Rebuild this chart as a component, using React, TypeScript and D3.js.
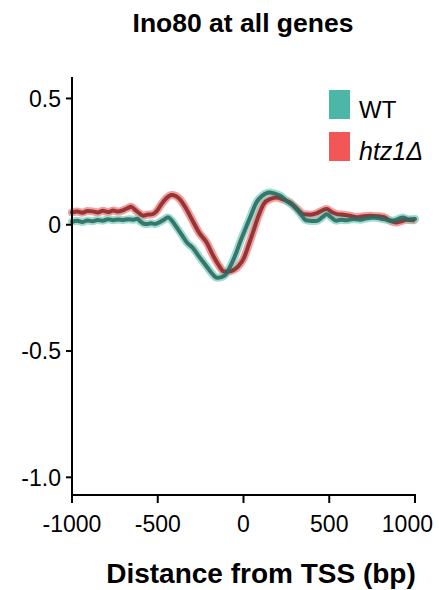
import React from "react";
import * as d3 from "d3";

// Ino80 occupancy profile around the TSS, two strains
const positionsWT = [-1000, -970, -940, -910, -880, -850, -820, -790, -760, -730, -700, -670, -640, -620, -600, -580, -560, -540, -515, -490, -460, -440, -420, -395, -360, -330, -295, -260, -215, -185, -155, -125, -105, -75, -45, -15, 15, 45, 75, 110, 150, 180, 215, 250, 290, 330, 365, 400, 430, 460, 485, 510, 540, 570, 600, 640, 680, 720, 760, 800, 840, 870, 900, 930, 960, 1000];
const valuesWT = [0.012, 0.016, 0.011, 0.017, 0.014, 0.019, 0.016, 0.022, 0.018, 0.021, 0.019, 0.022, 0.020, 0.024, 0.012, 0.004, 0.003, 0.006, 0.003, 0.010, 0.022, 0.030, 0.018, -0.005, -0.040, -0.070, -0.092, -0.125, -0.165, -0.192, -0.210, -0.206, -0.198, -0.162, -0.116, -0.060, -0.010, 0.040, 0.088, 0.115, 0.128, 0.124, 0.115, 0.095, 0.075, 0.045, 0.018, 0.015, 0.016, 0.030, 0.042, 0.030, 0.016, 0.020, 0.018, 0.023, 0.020, 0.026, 0.029, 0.024, 0.019, 0.016, 0.022, 0.029, 0.021, 0.023];

const positionsHtz1 = [-1000, -970, -940, -910, -880, -850, -820, -790, -760, -730, -700, -675, -655, -630, -605, -585, -560, -530, -505, -480, -450, -420, -395, -370, -340, -300, -260, -215, -175, -140, -115, -85, -55, -25, 0, 30, 60, 90, 120, 155, 195, 230, 270, 310, 350, 390, 425, 455, 485, 515, 545, 580, 620, 660, 700, 740, 780, 820, 860, 890, 920, 950, 990];
const valuesHtz1 = [0.049, 0.052, 0.048, 0.054, 0.053, 0.049, 0.055, 0.050, 0.056, 0.052, 0.058, 0.066, 0.071, 0.058, 0.044, 0.036, 0.040, 0.042, 0.055, 0.080, 0.105, 0.118, 0.114, 0.100, 0.070, 0.020, -0.030, -0.070, -0.125, -0.165, -0.185, -0.185, -0.178, -0.160, -0.135, -0.080, -0.020, 0.040, 0.085, 0.102, 0.108, 0.100, 0.089, 0.065, 0.042, 0.040, 0.045, 0.055, 0.062, 0.050, 0.042, 0.040, 0.036, 0.030, 0.034, 0.036, 0.034, 0.030, 0.014, 0.009, 0.014, 0.020, 0.018];

const xTicks = [-1000, -500, 0, 500, 1000];
const yTicks = [0.5, 0, -0.5, -1.0];
const yTickLabels = ["0.5", "0", "-0.5", "-1.0"];
const seriesNames = ["WT", "htz1Δ"];

const FONT = "'Liberation Sans', Arial, Helvetica, sans-serif";

export default function App() {
  const width = 439;
  const height = 590;
  const left = 72;
  const right = 415;
  const top = 77;
  const bottom = 495;

  const x = d3.scaleLinear().domain([-1000, 1000]).range([left, right]);
  const y = d3.scaleLinear().domain([-1.07, 0.585]).range([bottom, top]);

  const line = d3
    .line<[number, number]>()
    .x((d) => x(d[0]))
    .y((d) => y(d[1]))
    .curve(d3.curveMonotoneX);

  const wt = positionsWT.map((p, i) => [p, valuesWT[i]] as [number, number]);
  const htz = positionsHtz1.map((p, i) => [p, valuesHtz1[i]] as [number, number]);

  const series = [
    { name: seriesNames[1], data: htz, band: "#f27c7c", line: "#8a2b2b", swatch: "#f25656" },
    { name: seriesNames[0], data: wt, band: "#7fd0c3", line: "#2a6a5f", swatch: "#4db7a7" },
  ];

  // keep the last x tick label inside the canvas
  const xLabelAnchor = (t: number) => (t === 1000 ? "end" : "middle");
  const xLabelPos = (t: number) => (t === 1000 ? 433 : x(t));

  return (
    <svg
      width={width}
      height={height}
      style={{ position: "absolute", left: 0, top: 0, background: "#fff" }}
      fontFamily={FONT}
    >
      <text x={243} y={32} textAnchor="middle" fontSize={26.5} fontWeight="bold" fill="#000">
        Ino80 at all genes
      </text>

      {/* shaded error bands */}
      {series.map((s) => (
        <path
          key={"band-" + s.name}
          d={line(s.data) ?? ""}
          fill="none"
          stroke={s.band}
          strokeWidth={8}
          strokeOpacity={0.75}
          strokeLinejoin="round"
          strokeLinecap="round"
        />
      ))}
      {/* mean lines */}
      {series.map((s) => (
        <path
          key={"line-" + s.name}
          d={line(s.data) ?? ""}
          fill="none"
          stroke={s.line}
          strokeWidth={4}
          strokeOpacity={0.9}
          strokeLinejoin="round"
          strokeLinecap="round"
        />
      ))}

      {/* y axis */}
      <line x1={left} x2={left} y1={top} y2={bottom} stroke="#000" strokeWidth={2} />
      {yTicks.map((t, i) => (
        <g key={"yt" + t}>
          <line x1={left - 6} x2={left} y1={y(t)} y2={y(t)} stroke="#000" strokeWidth={2} />
          <text x={left - 11} y={y(t)} dy="0.36em" textAnchor="end" fontSize={23} fill="#000">
            {yTickLabels[i]}
          </text>
        </g>
      ))}

      {/* x axis */}
      <line x1={left - 1} x2={right + 1} y1={bottom} y2={bottom} stroke="#000" strokeWidth={2} />
      {xTicks.map((t) => (
        <g key={"xt" + t}>
          <line x1={x(t)} x2={x(t)} y1={bottom} y2={bottom + 8} stroke="#000" strokeWidth={2} />
          <text x={xLabelPos(t)} y={bottom + 37} textAnchor={xLabelAnchor(t)} fontSize={23} fill="#000">
            {t}
          </text>
        </g>
      ))}

      <text x={261} y={583} textAnchor="middle" fontSize={28} fontWeight="bold" fill="#000">
        Distance from TSS (bp)
      </text>

      {/* legend */}
      <rect x={329} y={90} width={21} height={29} fill={series[1].swatch} />
      <text x={359} y={118} fontSize={24} fill="#000">
        {seriesNames[0]}
      </text>
      <rect x={329} y={132} width={21} height={29} fill={series[0].swatch} />
      <text x={359} y={160} fontSize={25} fontStyle="italic" fill="#000">
        {seriesNames[1]}
      </text>
    </svg>
  );
}
